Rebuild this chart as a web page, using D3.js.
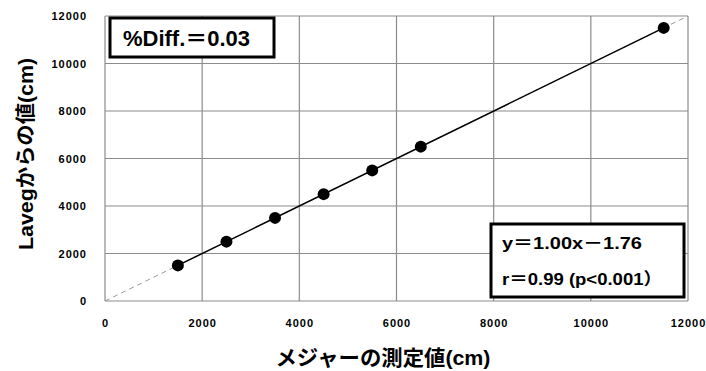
<!DOCTYPE html>
<html>
<head>
<meta charset="utf-8">
<script src="https://cdn.jsdelivr.net/npm/d3@7"></script>
<style>
  html, body { margin: 0; padding: 0; background: #fff; }
  svg { display: block; }
  text { font-family: "Liberation Sans", Arial, "Noto Sans CJK JP", sans-serif; font-weight: bold; }
</style>
</head>
<body>
<svg id="chart" width="706" height="371"></svg>
<script>
// Measured distance (tape) vs. value from Laveg, in cm
const tapeValues  = [1500, 2500, 3500, 4500, 5500, 6500, 11500];
const lavegValues = [1500, 2500, 3500, 4500, 5500, 6500, 11500];
const xTicks = [0, 2000, 4000, 6000, 8000, 10000, 12000];
const yTicks = [0, 2000, 4000, 6000, 8000, 10000, 12000];
const slope = 1.00, intercept = -1.76;
const statsLines = ["y＝1.00x－1.76", "r＝0.99 (p<0.001）"];
const diffLabel = "%Diff.＝0.03";
const xTitle = "メジャーの測定値(cm)";
const yTitle = "Lavegからの値(cm)";

const svg = d3.select("#chart");
const x = d3.scaleLinear().domain([0, 12000]).range([105, 688]);
const y = d3.scaleLinear().domain([0, 12000]).range([301, 16]);

// grid
const grid = svg.append("g");
grid.selectAll("line.v").data(xTicks).join("line")
  .attr("x1", d => x(d)).attr("x2", d => x(d))
  .attr("y1", y(0)).attr("y2", y(12000))
  .attr("stroke", "#8c8c8c").attr("stroke-width", 1.2);
grid.selectAll("line.h").data(yTicks).join("line")
  .attr("x1", x(0)).attr("x2", x(12000))
  .attr("y1", d => y(d)).attr("y2", d => y(d))
  .attr("stroke", "#8c8c8c").attr("stroke-width", 1.2);

// axes (labels only)
const xAxis = svg.append("g").attr("transform", `translate(0,${y(0)})`)
  .call(d3.axisBottom(x).tickValues(xTicks).tickSize(0).tickPadding(18).tickFormat(d3.format("d")));
const yAxis = svg.append("g").attr("transform", `translate(${x(0)},0)`)
  .call(d3.axisLeft(y).tickValues(yTicks).tickSize(0).tickPadding(18).tickFormat(d3.format("d")));
[xAxis, yAxis].forEach(a => {
  a.select(".domain").remove();
  a.selectAll("text").attr("font-size", 11).attr("fill", "#000")
    .attr("letter-spacing", 1)
    .attr("font-family", "'Liberation Sans', Arial, sans-serif").attr("font-weight", "bold");
});

// identity line
svg.append("line")
  .attr("x1", x(0)).attr("y1", y(0)).attr("x2", x(12000)).attr("y2", y(12000))
  .attr("stroke", "#999").attr("stroke-width", 1).attr("stroke-dasharray", "5,4");

// regression line
const xMin = d3.min(tapeValues), xMax = d3.max(tapeValues);
svg.append("line")
  .attr("x1", x(xMin)).attr("y1", y(slope * xMin + intercept))
  .attr("x2", x(xMax)).attr("y2", y(slope * xMax + intercept))
  .attr("stroke", "#000").attr("stroke-width", 1.5);

// points
svg.append("g").selectAll("circle").data(tapeValues.map((v, i) => [v, lavegValues[i]])).join("circle")
  .attr("cx", d => x(d[0])).attr("cy", d => y(d[1])).attr("r", 6).attr("fill", "#000");

// %Diff box
svg.append("rect").attr("x", 110).attr("y", 18).attr("width", 164).attr("height", 39)
  .attr("fill", "#fff").attr("stroke", "#000").attr("stroke-width", 3);
svg.append("text").attr("x", 123).attr("y", 46).attr("font-size", 22)
  .attr("textLength", 127).attr("lengthAdjust", "spacingAndGlyphs").text(diffLabel);

// stats box
svg.append("rect").attr("x", 491).attr("y", 224).attr("width", 193).attr("height", 73)
  .attr("fill", "#fff").attr("stroke", "#000").attr("stroke-width", 3);
const statsWidths = [140, 160];
statsLines.forEach((t, i) => {
  svg.append("text").attr("x", 502).attr("y", 249 + i * 36).attr("font-size", 17)
    .attr("textLength", statsWidths[i]).attr("lengthAdjust", "spacingAndGlyphs").text(t);
});

// axis titles
svg.append("text").attr("x", 383).attr("y", 365).attr("text-anchor", "middle")
  .attr("font-size", 21).attr("textLength", 215).attr("lengthAdjust", "spacingAndGlyphs").text(xTitle);
svg.append("text").attr("transform", "translate(33,154) rotate(-90)").attr("text-anchor", "middle")
  .attr("font-size", 20).attr("textLength", 192).attr("lengthAdjust", "spacingAndGlyphs").text(yTitle);
</script>
</body>
</html>
